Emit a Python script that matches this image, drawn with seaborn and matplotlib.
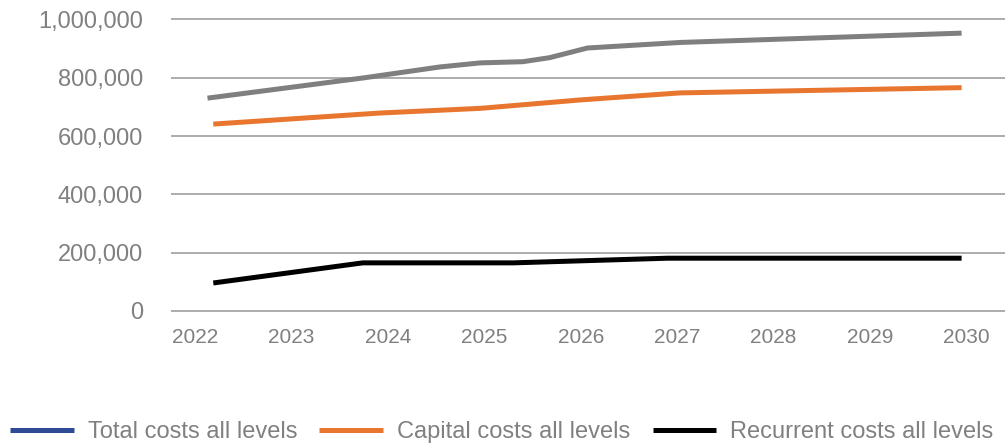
import matplotlib
matplotlib.use("Agg")
import matplotlib.pyplot as plt
from matplotlib.lines import Line2D
from matplotlib.ticker import FuncFormatter
import pandas as pd
import seaborn as sns

# Cost projections (x positions in fractional years)
total_years = [2022.13, 2023.76, 2024.54, 2024.96, 2025.40, 2025.68, 2026.07, 2027.03, 2029.95]
total_costs = [730000, 800000, 837000, 851000, 855000, 869000, 902000, 921000, 953000]

capital_years = [2022.19, 2023.92, 2024.96, 2026.00, 2027.03, 2029.95]
capital_costs = [641000, 679000, 695000, 724000, 748000, 766000]

recurrent_years = [2022.19, 2023.74, 2025.30, 2026.90, 2029.95]
recurrent_costs = [96000, 165000, 165000, 181000, 181000]

year_ticks = [2022, 2023, 2024, 2025, 2026, 2027, 2028, 2029, 2030]
value_ticks = [0, 200000, 400000, 600000, 800000, 1000000]

series_names = ["Total costs all levels", "Capital costs all levels", "Recurrent costs all levels"]
line_colors = ["#7f7f7f", "#e8762f", "#000000"]
legend_colors = ["#2f4a94", "#e8762f", "#000000"]

frames = []
for name, xs, ys in zip(series_names,
                        [total_years, capital_years, recurrent_years],
                        [total_costs, capital_costs, recurrent_costs]):
    frames.append(pd.DataFrame({"year": xs, "cost": ys, "series": name}))
df = pd.concat(frames, ignore_index=True)

sns.set_theme(style="white")
plt.rcParams["font.family"] = ["Liberation Sans", "DejaVu Sans"]

fig = plt.figure(figsize=(10.05, 4.47), dpi=100)
ax = fig.add_axes([0.170, 0.2978, 0.830, 0.6783])

sns.lineplot(data=df, x="year", y="cost", hue="series", hue_order=series_names,
             palette=dict(zip(series_names, line_colors)), estimator=None, sort=False,
             linewidth=3.6, legend=False, ax=ax)
for ln in ax.get_lines():
    ln.set_solid_capstyle("butt")
    ln.set_solid_joinstyle("round")

ax.set_xlim(2021.75, 2030.40)
ax.set_ylim(-10000, 1030000)
ax.set_xticks(year_ticks)
ax.set_xticklabels([str(y) for y in year_ticks])
ax.set_yticks(value_ticks)
ax.yaxis.set_major_formatter(FuncFormatter(lambda v, p: f"{int(v):,}"))
ax.set_xlabel("")
ax.set_ylabel("")

ax.grid(axis="y", color="#a6a6a6", linewidth=1.3)
ax.grid(axis="x", visible=False)
ax.set_axisbelow(True)
for s in ax.spines.values():
    s.set_visible(False)

ax.tick_params(axis="y", length=0, pad=20, labelsize=17, labelcolor="#808080")
ax.tick_params(axis="x", length=0, pad=10, labelsize=15, labelcolor="#808080")

handles = [Line2D([0], [0], color=c, linewidth=3.6, solid_capstyle="butt") for c in legend_colors]
leg = fig.legend(handles, series_names, loc="center left", bbox_to_anchor=(0.01, 0.033),
                 ncol=3, frameon=False, fontsize=17, handlelength=2.7, handletextpad=0.6,
                 columnspacing=0.93, borderaxespad=0.0, borderpad=0.0)
for t in leg.get_texts():
    t.set_color("#808080")

fig.savefig("out.png", dpi=100)
